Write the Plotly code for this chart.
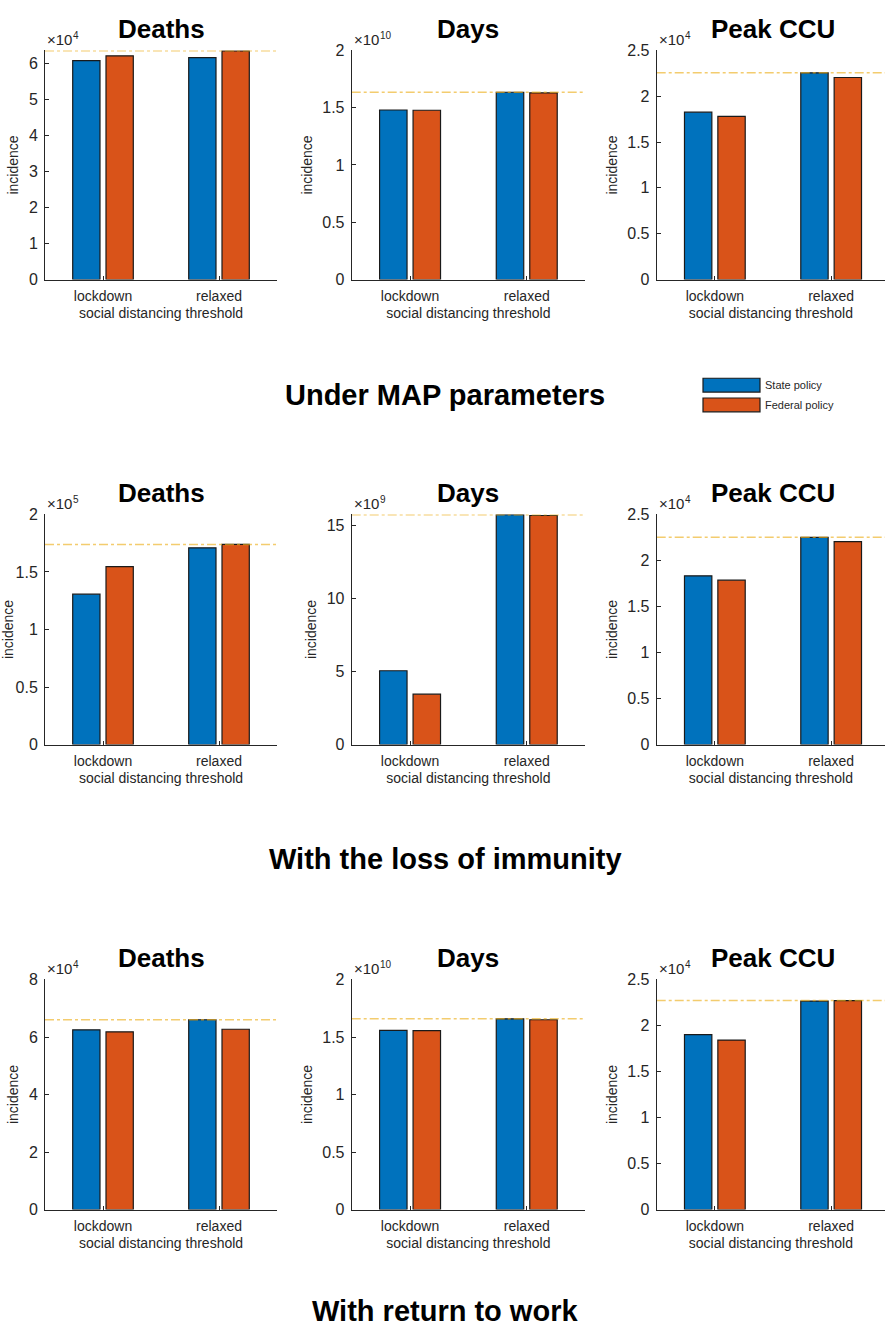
import plotly.graph_objects as go

# ---------------- data (values in units of the axis exponent) ----------------
categories = ["lockdown", "relaxed"]
series_names = ["State policy", "Federal policy"]
panel_titles = ["Deaths", "Days", "Peak CCU"]
section_titles = ["Under MAP parameters", "With the loss of immunity", "With return to work"]

# Under MAP parameters
map_deaths_state = [6.07, 6.15]      # x1e4
map_deaths_federal = [6.20, 6.34]
map_days_state = [1.48, 1.635]       # x1e10
map_days_federal = [1.478, 1.63]
map_ccu_state = [1.826, 2.256]       # x1e4
map_ccu_federal = [1.78, 2.205]

# With the loss of immunity
imm_deaths_state = [1.307, 1.71]     # x1e5
imm_deaths_federal = [1.546, 1.74]
imm_days_state = [5.05, 15.74]       # x1e9
imm_days_federal = [3.45, 15.68]
imm_ccu_state = [1.833, 2.252]       # x1e4
imm_ccu_federal = [1.786, 2.205]

# With return to work
rtw_deaths_state = [6.25, 6.60]      # x1e4
rtw_deaths_federal = [6.18, 6.27]
rtw_days_state = [1.558, 1.658]      # x1e10
rtw_days_federal = [1.555, 1.65]
rtw_ccu_state = [1.90, 2.265]        # x1e4
rtw_ccu_federal = [1.842, 2.271]

exponents = [["4", "10", "4"], ["5", "9", "4"], ["4", "10", "4"]]
y_ranges = [[6.35, 2, 2.5], [2, 15.75, 2.5], [8, 2, 2.5]]
y_dticks = [[1, 0.5, 0.5], [0.5, 5, 0.5], [2, 0.5, 0.5]]

panels = [
    [(map_deaths_state, map_deaths_federal), (map_days_state, map_days_federal), (map_ccu_state, map_ccu_federal)],
    [(imm_deaths_state, imm_deaths_federal), (imm_days_state, imm_days_federal), (imm_ccu_state, imm_ccu_federal)],
    [(rtw_deaths_state, rtw_deaths_federal), (rtw_days_state, rtw_days_federal), (rtw_ccu_state, rtw_ccu_federal)],
]

# ---------------- layout geometry ----------------
W, H = 885, 1338
col_px = [(45, 277), (351.7, 585), (656.7, 885)]
px_per_unit = [116, 116.7, 116.3]
row_px = [(43, 275), (513, 746), (984, 1217)]
section_y_px = [392, 862, None]

BLUE = "#0072BD"
ORANGE = "#D95319"
AX = "#262626"
FONT = "Liberation Sans, Arial, sans-serif"

def py(p):
    return 1 - p / H

fig = go.Figure()
layout = dict(
    width=W, height=H,
    margin=dict(l=0, r=0, t=0, b=0),
    paper_bgcolor="white", plot_bgcolor="white",
    barmode="group", bargap=0.426, bargroupgap=0.18,
    showlegend=False,
    font=dict(family=FONT, color=AX, size=14),
)
annotations = []
shapes = []

k = 0
for r in range(3):
    for c in range(3):
        k += 1
        xa = "x" if k == 1 else f"x{k}"
        ya = "y" if k == 1 else f"y{k}"
        state, federal = panels[r][c]
        x0, x1 = col_px[c]
        y0, y1 = row_px[r]
        xmax = 0.5 + (x1 - x0) / px_per_unit[c]
        for vals, color, name in [(state, BLUE, series_names[0]), (federal, ORANGE, series_names[1])]:
            fig.add_trace(go.Bar(
                x=[1, 2], y=vals, name=name, xaxis=xa, yaxis=ya,
                marker=dict(color=color, line=dict(color="#1a1a1a", width=1.2)),
            ))
        # reference line at the maximum value
        top = max(max(state), max(federal))
        fig.add_trace(go.Scatter(
            x=[0.5, xmax], y=[top, top], mode="lines", xaxis=xa, yaxis=ya,
            line=dict(color="rgba(237,177,32,0.65)", width=1.5, dash="dashdot"),
            hoverinfo="skip",
        ))
        layout["xaxis" if k == 1 else f"xaxis{k}"] = dict(
            domain=[x0 / W, min(x1 / W, 1.0)], anchor=ya,
            range=[0.5, xmax], tickvals=[1, 2], ticktext=categories,
            showline=True, linecolor=AX, linewidth=1, mirror=False,
            ticks="inside", ticklen=4, tickcolor=AX,
            showgrid=False, zeroline=False,
            tickfont=dict(size=14, color=AX), ticklabelstandoff=4,
            title=dict(text="social distancing threshold", font=dict(size=14, color=AX), standoff=4),
        )
        layout["yaxis" if k == 1 else f"yaxis{k}"] = dict(
            domain=[py(y1), py(y0)], anchor=xa,
            range=[0, y_ranges[r][c]], dtick=y_dticks[r][c], tick0=0,
            showline=True, linecolor=AX, linewidth=1,
            ticks="inside", ticklen=4, tickcolor=AX,
            showgrid=False, zeroline=False,
            tickfont=dict(size=16, color=AX), ticklabelstandoff=3,
            title=dict(text="incidence", font=dict(size=14, color=AX), standoff=6),
        )
        # exponent label: "×10" plus a raised, smaller power
        annotations.append(dict(
            text="×10", xref="paper", yref="paper",
            x=x0 / W, y=py(y0), xanchor="left", yanchor="bottom",
            showarrow=False, font=dict(size=15, color=AX),
        ))
        annotations.append(dict(
            text=exponents[r][c], xref="paper", yref="paper",
            x=(x0 + 26) / W, y=py(y0), xanchor="left", yanchor="bottom", yshift=7,
            showarrow=False, font=dict(size=10, color=AX),
        ))
        # panel title
        annotations.append(dict(
            text=f"<b>{panel_titles[c]}</b>", xref="paper", yref="paper",
            x=(x0 + px_per_unit[c]) / W, y=py(y0 - 22),
            xanchor="center", yanchor="middle", showarrow=False,
            font=dict(size=26, color="black"),
        ))

for i, t in enumerate(section_titles):
    if section_y_px[i] is not None:
        pos = dict(y=py(section_y_px[i]), yanchor="middle")
    else:
        pos = dict(y=0, yanchor="bottom")
    annotations.append(dict(
        text=f"<b>{t}</b>", xref="paper", yref="paper",
        x=445 / W, xanchor="center", showarrow=False,
        font=dict(size=29, color="black"), **pos,
    ))

# legend (drawn manually to get MATLAB-style wide patches)
leg_items = [(series_names[0], BLUE, 375, 389), (series_names[1], ORANGE, 395, 409)]
for name, color, ya0, ya1 in leg_items:
    shapes.append(dict(type="rect", xref="paper", yref="paper",
                       x0=703 / W, x1=760 / W, y0=py(ya1), y1=py(ya0),
                       fillcolor=color, line=dict(color="#1a1a1a", width=1.2)))
    annotations.append(dict(text=name, xref="paper", yref="paper",
                            x=763 / W, y=py((ya0 + ya1) / 2), xanchor="left", yanchor="middle",
                            showarrow=False, font=dict(size=11, color=AX)))

layout["annotations"] = annotations
layout["shapes"] = shapes
fig.update_layout(**layout)
fig.write_html("out.html", config={"displayModeBar": False},
               post_script="document.body.style.margin='0';")
